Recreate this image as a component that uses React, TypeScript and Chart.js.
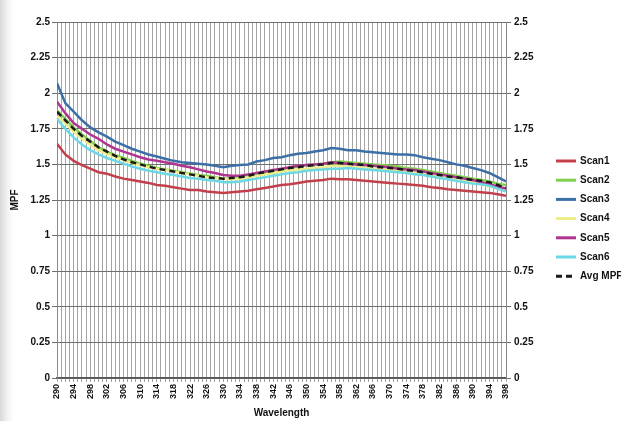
import React, { useEffect, useRef } from "react";
import { Chart, registerables } from "chart.js";

Chart.register(...registerables);

const wavelengths = [
  290, 292, 294, 296, 298, 300, 302, 304, 306, 308, 310, 312, 314, 316, 318, 320, 322, 324, 326, 328,
  330, 332, 334, 336, 338, 340, 342, 344, 346, 348, 350, 352, 354, 356, 358, 360, 362, 364, 366, 368,
  370, 372, 374, 376, 378, 380, 382, 384, 386, 388, 390, 392, 394, 396, 398,
];

const xTickLabels = [
  "290", "294", "298", "302", "306", "310", "314", "318", "322", "326", "330", "334", "338", "342",
  "346", "350", "354", "358", "362", "366", "370", "374", "378", "382", "386", "390", "394", "398",
];

const yTickLabels = ["0", "0.25", "0.5", "0.75", "1", "1.25", "1.5", "1.75", "2", "2.25", "2.5"];

const scan1 = [
  1.645, 1.57, 1.525, 1.495, 1.47, 1.445, 1.435, 1.415, 1.40, 1.39, 1.38, 1.37, 1.355, 1.35, 1.34, 1.33, 1.32, 1.32, 1.31, 1.305,
  1.30, 1.305, 1.31, 1.315, 1.325, 1.335, 1.345, 1.355, 1.36, 1.37, 1.38, 1.385, 1.39, 1.40, 1.395, 1.395, 1.39, 1.385, 1.38, 1.375,
  1.37, 1.365, 1.36, 1.355, 1.35, 1.34, 1.335, 1.325, 1.32, 1.315, 1.31, 1.305, 1.30, 1.29, 1.28,
];
const scan2 = [
  1.88, 1.82, 1.76, 1.71, 1.665, 1.62, 1.59, 1.565, 1.545, 1.525, 1.505, 1.49, 1.475, 1.465, 1.455, 1.445, 1.435, 1.425, 1.42, 1.41,
  1.40, 1.40, 1.405, 1.42, 1.43, 1.445, 1.455, 1.465, 1.475, 1.485, 1.495, 1.50, 1.505, 1.515, 1.52, 1.515, 1.51, 1.505, 1.50, 1.495,
  1.49, 1.485, 1.475, 1.47, 1.46, 1.45, 1.44, 1.43, 1.42, 1.41, 1.40, 1.39, 1.38, 1.365, 1.355,
];
const scan3 = [
  2.07, 1.93, 1.87, 1.81, 1.76, 1.725, 1.695, 1.66, 1.635, 1.61, 1.59, 1.57, 1.555, 1.54, 1.525, 1.515, 1.51, 1.505, 1.50, 1.49,
  1.48, 1.49, 1.495, 1.50, 1.52, 1.53, 1.545, 1.55, 1.565, 1.575, 1.58, 1.59, 1.60, 1.615, 1.61, 1.60, 1.60, 1.59, 1.585, 1.58,
  1.575, 1.57, 1.57, 1.565, 1.55, 1.54, 1.53, 1.515, 1.50, 1.49, 1.475, 1.46, 1.44, 1.41, 1.38,
];
const scan4 = [
  1.84, 1.79, 1.73, 1.68, 1.64, 1.60, 1.575, 1.55, 1.53, 1.51, 1.495, 1.48, 1.47, 1.46, 1.45, 1.44, 1.43, 1.42, 1.41, 1.405,
  1.40, 1.395, 1.40, 1.41, 1.42, 1.43, 1.44, 1.45, 1.46, 1.465, 1.47, 1.475, 1.48, 1.49, 1.49, 1.485, 1.48, 1.475, 1.47, 1.465,
  1.46, 1.455, 1.445, 1.44, 1.43, 1.42, 1.41, 1.40, 1.39, 1.38, 1.37, 1.36, 1.345, 1.33, 1.315,
];
const scan5 = [
  1.94, 1.86, 1.79, 1.75, 1.71, 1.68, 1.64, 1.61, 1.59, 1.57, 1.55, 1.535, 1.525, 1.515, 1.505, 1.49, 1.48, 1.465, 1.45, 1.44,
  1.425, 1.42, 1.42, 1.43, 1.44, 1.45, 1.46, 1.47, 1.48, 1.49, 1.495, 1.50, 1.505, 1.515, 1.51, 1.505, 1.50, 1.495, 1.49, 1.485,
  1.48, 1.47, 1.465, 1.46, 1.45, 1.44, 1.43, 1.42, 1.41, 1.40, 1.39, 1.375, 1.36, 1.345, 1.33,
];
const scan6 = [
  1.82, 1.75, 1.69, 1.64, 1.60, 1.57, 1.545, 1.525, 1.505, 1.485, 1.47, 1.455, 1.445, 1.435, 1.425, 1.415, 1.405, 1.40, 1.39, 1.385,
  1.375, 1.375, 1.38, 1.39, 1.40, 1.41, 1.42, 1.43, 1.44, 1.445, 1.455, 1.46, 1.465, 1.47, 1.47, 1.475, 1.47, 1.465, 1.46, 1.455,
  1.45, 1.445, 1.44, 1.43, 1.425, 1.415, 1.405, 1.395, 1.385, 1.375, 1.365, 1.36, 1.35, 1.33, 1.31,
];
const avgMpf = [
  1.87, 1.81, 1.75, 1.70, 1.66, 1.62, 1.59, 1.56, 1.535, 1.515, 1.50, 1.485, 1.47, 1.46, 1.45, 1.44, 1.43, 1.42, 1.41, 1.405,
  1.40, 1.405, 1.41, 1.42, 1.435, 1.445, 1.455, 1.465, 1.475, 1.48, 1.49, 1.495, 1.50, 1.51, 1.51, 1.505, 1.50, 1.495, 1.485, 1.48,
  1.475, 1.47, 1.46, 1.455, 1.445, 1.435, 1.425, 1.415, 1.41, 1.40, 1.39, 1.385, 1.375, 1.355, 1.335,
];

const seriesNames = ["Scan1", "Scan2", "Scan3", "Scan4", "Scan5", "Scan6", "Avg MPF"];
const seriesValues = [scan1, scan2, scan3, scan4, scan5, scan6, avgMpf];
const seriesColors = ["#c2404c", "#80d24c", "#3b6fa6", "#eeee88", "#b03590", "#6cd8e6", "#1a1a1a"];

const FONT = "'Liberation Sans', Arial, sans-serif";

const yLabel = (v: any) => {
  const s = yTickLabels.find((t) => Math.abs(Number(t) - Number(v)) < 1e-6);
  return s ?? "";
};

const legendPlugin = {
  id: "sideLegend",
  afterDraw(chart: any) {
    const ctx = chart.ctx;
    ctx.save();
    ctx.font = `bold 10px ${FONT}`;
    ctx.textBaseline = "middle";
    ctx.textAlign = "left";
    chart.data.datasets.forEach((ds: any, i: number) => {
      const y = 161 + i * 19.2;
      ctx.strokeStyle = ds.borderColor;
      ctx.lineWidth = 3;
      ctx.setLineDash(ds.borderDash || []);
      ctx.beginPath();
      ctx.moveTo(556, y);
      ctx.lineTo(576, y);
      ctx.stroke();
      ctx.setLineDash([]);
      ctx.fillStyle = "#111";
      ctx.fillText(ds.label, 580, y);
    });
    ctx.restore();
  },
};

export default function App() {
  const ref = useRef<HTMLCanvasElement | null>(null);

  useEffect(() => {
    if (!ref.current) return;
    const datasets = seriesNames.map((name, i) => ({
      label: name,
      data: wavelengths.map((w, j) => ({ x: w, y: seriesValues[i][j] })),
      borderColor: seriesColors[i],
      backgroundColor: seriesColors[i],
      borderWidth: 2.5,
      borderDash: i === 6 ? [6, 4] : undefined,
      pointRadius: 0,
      tension: 0,
      order: i === 6 ? -1 : 7 - i,
      yAxisID: "y",
    }));

    const chart = new Chart(ref.current, {
      type: "line",
      data: { datasets },
      options: {
        animation: false,
        responsive: false,
        maintainAspectRatio: false,
        layout: { padding: { top: 22, left: 0, right: 0, bottom: 0 } },
        plugins: {
          legend: { display: false },
          tooltip: { enabled: false },
        },
        scales: {
          x: {
            type: "linear",
            min: 290,
            max: 398,
            afterFit: (s: any) => {
              s.height = 43;
            },
            ticks: {
              stepSize: 1,
              autoSkip: false,
              maxTicksLimit: 1000,
              maxRotation: 90,
              minRotation: 90,
              padding: 2,
              color: "#111",
              font: { family: FONT, size: 9, weight: "bold" },
              callback: (v: any) => (xTickLabels.includes(String(v)) ? String(v) : ""),
            },
            grid: {
              color: "rgba(105,105,105,0.6)",
              lineWidth: 1,
              tickLength: 4,
            },
            border: { color: "#555", width: 1.5 },
            title: {
              display: true,
              text: "Wavelength",
              color: "#111",
              font: { family: FONT, size: 10, weight: "bold" },
              padding: { top: 0, bottom: 2 },
            },
          },
          y: {
            position: "left",
            min: 0,
            max: 2.5,
            afterFit: (s: any) => {
              s.width = 57;
            },
            ticks: {
              stepSize: 0.25,
              padding: 2,
              color: "#111",
              font: { family: FONT, size: 10, weight: "bold" },
              callback: yLabel,
            },
            grid: { color: "#6e6e6e", lineWidth: 1, tickLength: 5 },
            border: { color: "#888", width: 1 },
            title: {
              display: true,
              text: "MPF",
              color: "#111",
              font: { family: FONT, size: 10, weight: "bold" },
              padding: { top: 9, bottom: 0 },
            },
          },
          y2: {
            position: "right",
            min: 0,
            max: 2.5,
            afterFit: (s: any) => {
              s.width = 115;
            },
            ticks: {
              stepSize: 0.25,
              padding: 3,
              color: "#111",
              font: { family: FONT, size: 10, weight: "bold" },
              callback: yLabel,
            },
            grid: { drawOnChartArea: false, color: "#6e6e6e", tickLength: 5 },
            border: { color: "#888", width: 1 },
          },
        },
      } as any,
      plugins: [legendPlugin],
    });
    return () => chart.destroy();
  }, []);

  return (
    <div
      style={{
        position: "fixed",
        left: 0,
        top: 0,
        width: 621,
        height: 421,
        background: "linear-gradient(to right, #d8d8d8 0px, #f4f4f4 8px, #ffffff 14px)",
      }}
    >
      <canvas ref={ref} width={621} height={421} style={{ width: 621, height: 421, display: "block" }} />
    </div>
  );
}
